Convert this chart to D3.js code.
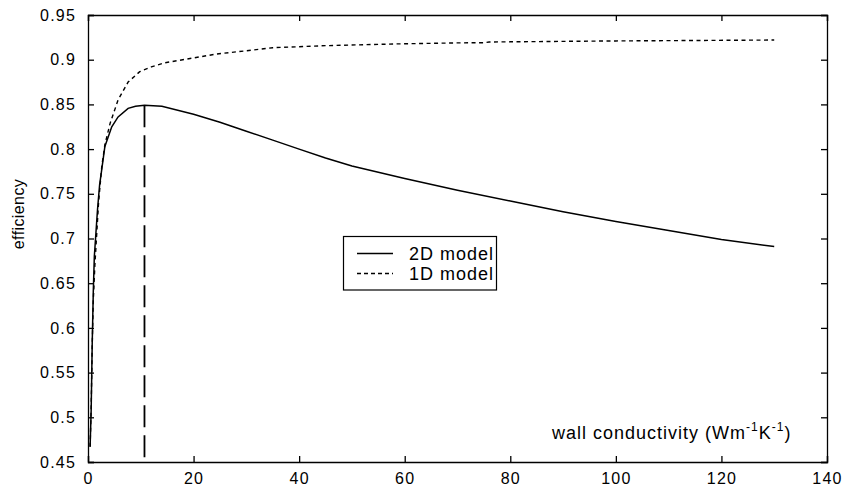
<!DOCTYPE html>
<html><head><meta charset="utf-8">
<script src="https://cdn.jsdelivr.net/npm/d3@7"></script>
<style>body{margin:0;background:#fff}svg{display:block}text{font-family:"Liberation Sans",Arial,sans-serif;}</style>
</head><body><svg id="c" width="844" height="488"></svg>
<script>
const xTicks = [0,20,40,60,80,100,120,140];
const yTicks = [0.45,0.5,0.55,0.6,0.65,0.7,0.75,0.8,0.85,0.9,0.95];
const x2D = [0.4,0.6,0.8,1.0,1.2,1.5,1.8,2.2,2.6,3.2,4.5,5.7,7.6,9,10.7,14,20,25,30,35,40,45,50,60,70,80,90,100,110,120,130];
const y2D = [0.467,0.508,0.583,0.64,0.68,0.706,0.732,0.76,0.777,0.803,0.825,0.836,0.8456,0.848,0.849,0.848,0.839,0.83,0.82,0.81,0.80,0.79,0.781,0.767,0.754,0.742,0.73,0.719,0.709,0.699,0.691];
const x1D = [0.4,0.6,0.8,1.0,1.3,1.6,2,2.6,3.2,4.2,5.7,7.6,9.8,12,14.6,20,24.4,30,35,45,58,70,75,76,80,100,130];
const y1D = [0.467,0.51,0.58,0.63,0.67,0.70,0.74,0.78,0.805,0.829,0.855,0.875,0.8866,0.892,0.8966,0.902,0.9064,0.91,0.9134,0.9157,0.9176,0.9188,0.919,0.9198,0.92,0.921,0.922];
const peakX = 10.7, peakY = 0.849;
const legendLabels = ["2D model","1D model"];
const xLabelParts = ["wall conductivity (Wm","-1","K","-1",")"];
const yLabel = "efficiency";

const L=88,R=827,T=15,B=462;
const svg=d3.select("#c");
const x=d3.scaleLinear().domain([0,140]).range([L,R]);
const y=d3.scaleLinear().domain([0.45,0.95]).range([B,T]);
const fmt=v=>String(+v.toFixed(2));

const tl=6;
svg.append("g").attr("transform",`translate(0,${B})`).call(d3.axisBottom(x).tickValues(xTicks).tickSize(-tl).tickPadding(tl+5).tickFormat(d3.format("d")));
svg.append("g").attr("transform",`translate(0,${T})`).call(d3.axisTop(x).tickValues(xTicks).tickSize(-tl).tickFormat(""));
svg.append("g").attr("transform",`translate(${L},0)`).call(d3.axisLeft(y).tickValues(yTicks).tickSize(-tl).tickPadding(tl+6).tickFormat(fmt));
svg.append("g").attr("transform",`translate(${R},0)`).call(d3.axisRight(y).tickValues(yTicks).tickSize(-tl).tickFormat(""));
svg.selectAll(".domain").attr("stroke","#000").attr("stroke-width",1.3);
svg.selectAll(".tick line").attr("stroke","#000").attr("stroke-width",1.3);
svg.selectAll(".tick text").attr("font-size",16).attr("letter-spacing",1.2).attr("fill","#000").attr("font-family","Liberation Sans, Arial, sans-serif");

const line=d3.line().x(d=>x(d[0])).y(d=>y(d[1]));
svg.append("path").datum(x2D.map((v,i)=>[v,y2D[i]])).attr("d",line).attr("fill","none").attr("stroke","#000").attr("stroke-width",1.5);
svg.append("path").datum(x1D.map((v,i)=>[v,y1D[i]])).attr("d",line).attr("fill","none").attr("stroke","#000").attr("stroke-width",1.4).attr("stroke-dasharray","4,3.5");
svg.append("line").attr("x1",x(peakX)).attr("x2",x(peakX)).attr("y1",y(peakY)).attr("y2",y(0.45)).attr("stroke","#000").attr("stroke-width",1.8).attr("stroke-dasharray","22,8");

const lg=svg.append("g");
lg.append("rect").attr("x",343.5).attr("y",236.5).attr("width",153).attr("height",53.5).attr("fill","#fff").attr("stroke","#000").attr("stroke-width",1.2);
legendLabels.forEach((t,i)=>{
  const yy=253.5+i*20;
  lg.append("line").attr("x1",357).attr("x2",393).attr("y1",yy).attr("y2",yy).attr("stroke","#000").attr("stroke-width",1.4).attr("stroke-dasharray",i?"4,3":null);
  lg.append("text").attr("x",409).attr("y",yy+6.5).attr("font-size",18).attr("letter-spacing",1).text(t);
});

const xl=svg.append("text").attr("x",552).attr("y",439).attr("font-size",18).attr("letter-spacing",1);
xLabelParts.forEach((p,i)=>{
  const ts=xl.append("tspan").text(p);
  if(i===1||i===3){ts.attr("font-size",12).attr("dy",-8);} else if(i>0){ts.attr("dy",8);}
});
svg.append("text").attr("transform","translate(24,214) rotate(-90)").attr("text-anchor","middle").attr("font-size",16).attr("letter-spacing",0.4).text(yLabel);
</script></body></html>
